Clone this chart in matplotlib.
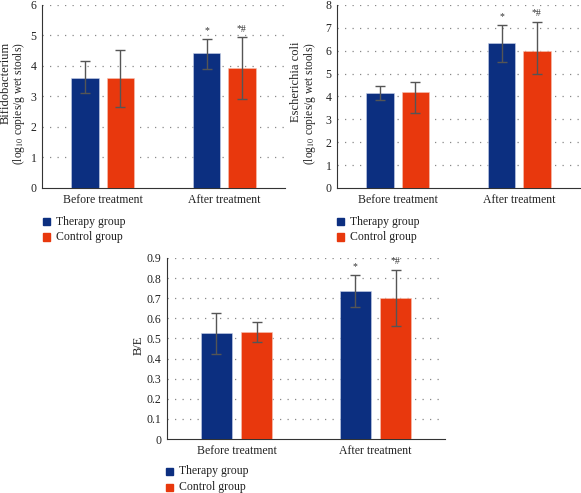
import numpy as np
import matplotlib.pyplot as plt
from matplotlib.patches import Rectangle
from matplotlib.ticker import FuncFormatter

plt.rcParams["font.family"] = ["Liberation Serif", "DejaVu Serif"]
plt.rcParams["mathtext.fontset"] = "stix"

# data
groups = ["Before treatment", "After treatment"]
series = ["Therapy group", "Control group"]
colors = ["#0c2f80", "#e8380d"]

bifido_therapy = [3.62, 4.41]
bifido_therapy_lo = [0.51, 0.50]
bifido_therapy_hi = [0.53, 0.48]
bifido_control = [3.60, 3.93]
bifido_control_lo = [0.93, 1.02]
bifido_control_hi = [0.93, 1.01]

ecoli_therapy = [4.15, 6.32]
ecoli_therapy_lo = [0.30, 0.82]
ecoli_therapy_hi = [0.32, 0.80]
ecoli_control = [4.20, 5.99]
ecoli_control_lo = [0.93, 1.02]
ecoli_control_hi = [0.43, 1.28]

be_therapy = [0.528, 0.736]
be_therapy_lo = [0.103, 0.079]
be_therapy_hi = [0.099, 0.081]
be_control = [0.533, 0.700]
be_control_lo = [0.053, 0.139]
be_control_hi = [0.049, 0.142]

marks = [["", "*"], ["", "*#"]]

fig = plt.figure(figsize=(5.81, 4.93), dpi=100)
W, H = 581, 493


def px_axes(left, top, right, bottom):
    return fig.add_axes([left / W, 1 - bottom / H, (right - left) / W, (bottom - top) / H])


def px_label(x, y_top, s, size=9):
    fig.text(x / W, 1 - y_top / H, s, rotation=90, ha="center", va="top",
             fontsize=size, color="#222222")


def px_legend(x, y0, dy):
    # small square swatches with labels, as in the reference
    for k, name in enumerate(series):
        y = y0 + k * dy
        fig.patches.append(Rectangle(((x - 3.5) / W, 1 - (y + 3.5) / H), 7 / W, 7 / H,
                                     transform=fig.transFigure, color=colors[k]))
        fig.text((x + 10) / W, 1 - y / H, name, ha="left", va="center",
                 fontsize=8.5, color="#222222")


def draw(ax, therapy, t_lo, t_hi, control, c_lo, c_hi, ymax, step, star_pad):
    x = np.arange(len(groups))
    width = 0.225
    off = 0.145
    ekw = dict(ecolor="#555555", elinewidth=1.0, capsize=3.5, capthick=1.0)
    ax.bar(x - off, therapy, width, color=colors[0], edgecolor="#c9d3ea", linewidth=0.4,
           yerr=[t_lo, t_hi], error_kw=ekw, zorder=3)
    ax.bar(x + off, control, width, color=colors[1], edgecolor="#f6c4b4", linewidth=0.4,
           yerr=[c_lo, c_hi], error_kw=ekw, zorder=3)
    for i in range(len(groups)):
        if marks[0][i]:
            ax.text(x[i] - off, therapy[i] + t_hi[i] + star_pad, marks[0][i],
                    ha="center", va="bottom", fontsize=7, color="#333333")
        if marks[1][i]:
            ax.text(x[i] + off, control[i] + c_hi[i] + star_pad, marks[1][i],
                    ha="center", va="bottom", fontsize=7, color="#333333")
    ax.set_xlim(-0.5, 1.5)
    ax.set_ylim(0, ymax)
    ticks = np.arange(0, ymax + step / 2, step)
    ax.set_yticks(ticks)
    ax.yaxis.set_major_formatter(FuncFormatter(lambda v, p: "%g" % round(v, 2)))
    ax.set_xticks(x)
    ax.set_xticklabels(groups)
    ax.tick_params(length=0, labelsize=8.5, colors="#222222", pad=4)
    for t in ticks[1:]:
        ax.axhline(t, color="#888888", linewidth=0.9, linestyle=(0, (1, 5)), zorder=1)
    for s in ["top", "right"]:
        ax.spines[s].set_visible(False)
    for s in ["left", "bottom"]:
        ax.spines[s].set_color("#333333")
        ax.spines[s].set_linewidth(0.8)


ax1 = px_axes(42, 5, 285, 188)
draw(ax1, bifido_therapy, bifido_therapy_lo, bifido_therapy_hi,
     bifido_control, bifido_control_lo, bifido_control_hi, 6, 1, 0.12)
px_label(5.5, 42, "Bifidobacterium")
px_label(19, 42, "(log$_{10}$ copies/g wet stools)", 8.3)
px_legend(46, 221.5, 15.5)

ax2 = px_axes(337, 5, 580, 188)
draw(ax2, ecoli_therapy, ecoli_therapy_lo, ecoli_therapy_hi,
     ecoli_control, ecoli_control_lo, ecoli_control_hi, 8, 1, 0.17)
px_label(296, 42, "Escherichia coli")
px_label(310, 42, "(log$_{10}$ copies/g wet stools)", 8.3)
px_legend(340, 221.5, 15.5)

ax3 = px_axes(167, 258, 445, 439)
draw(ax3, be_therapy, be_therapy_lo, be_therapy_hi,
     be_control, be_control_lo, be_control_hi, 0.9, 0.1, 0.018)
fig.text(139 / W, 1 - 345 / H, "B/E", rotation=90, ha="center", va="center",
         fontsize=9, color="#222222")
px_legend(169, 471, 16)

fig.savefig("out.png", dpi=100)
